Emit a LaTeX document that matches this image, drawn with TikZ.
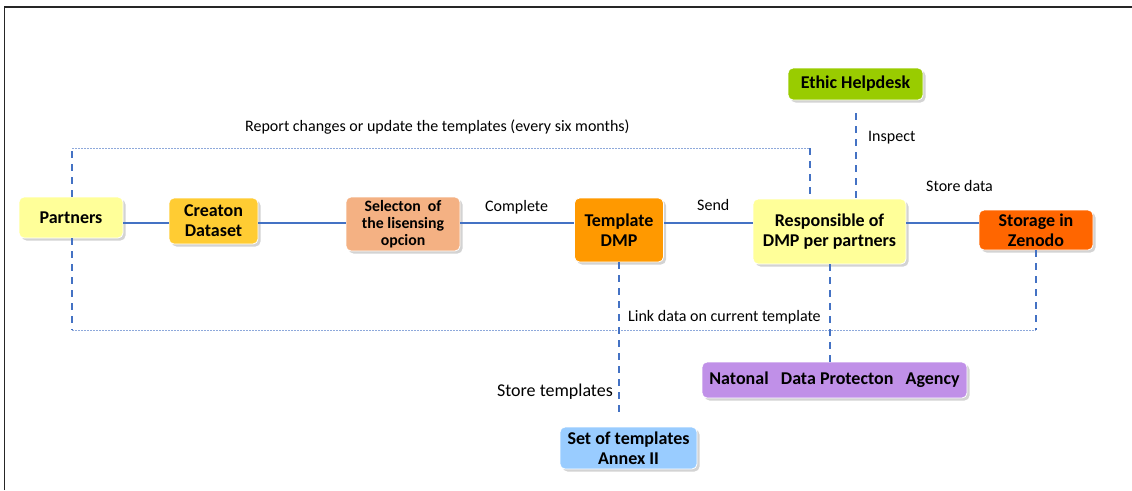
\documentclass[tikz,border=0pt]{standalone}
\usepackage{fontspec}
\setmainfont{Carlito}
\usetikzlibrary{shadows}
\definecolor{lnblue}{HTML}{4472C4}
\definecolor{dotblue}{HTML}{8EA9DB}
\definecolor{cyel}{HTML}{FFFF99}
\definecolor{cgold}{HTML}{FFCC33}
\definecolor{cpeach}{HTML}{F4B183}
\definecolor{corange}{HTML}{FF9900}
\definecolor{cred}{HTML}{FF6600}
\definecolor{cgreen}{HTML}{99CC00}
\definecolor{cpurple}{HTML}{C090E8}
\definecolor{cblue}{HTML}{99CCFF}
\tikzset{
  box/.style={rounded corners=5pt, draw=white, line width=0.8pt, align=center,
    font=\fontsize{18}{20}\selectfont\bfseries, inner sep=1pt,
    drop shadow={shadow xshift=2.5pt, shadow yshift=-2.5pt, opacity=0.35, fill=gray}},
  solidln/.style={draw=lnblue, line width=1.8pt},
  dashln/.style={draw=lnblue, line width=2pt, dash pattern=on 7pt off 6pt},
  dotln/.style={draw=dotblue, line width=0.9pt, dash pattern=on 2pt off 1pt},
  lbl/.style={font=\fontsize{16}{18}\selectfont, inner sep=0pt}
}
\begin{document}
\begin{tikzpicture}[x=1pt,y=-1pt]
\useasboundingbox (0,0) rectangle (1132,490);
\draw[line width=1.6pt, black!85] (4.5,490) -- (4.5,7) -- (1132,7);

% nodes
\node[box, fill=cyel, minimum width=104pt, minimum height=41pt] (partners) at (71,217.5) {Partners};
\node[box, fill=cgold, minimum width=89pt, minimum height=46pt] (creation) at (213.5,221) {Creaton\\Dataset};
\node[box, fill=cpeach, minimum width=114pt, minimum height=54pt, font=\fontsize{15.8}{17}\selectfont\bfseries] (selection) at (403,224) {Selecton\ \ of\\the lisensing\\opcion};
\node[box, fill=corange, minimum width=89pt, minimum height=64pt] (template) at (619,230) {Template\\DMP};
\node[box, fill=cyel, minimum width=153pt, minimum height=65pt] (resp) at (829.5,231.5) {Responsible of\\DMP per partners};
\node[box, fill=cred, minimum width=114pt, minimum height=40pt] (storage) at (1036,230) {Storage in\\Zenodo};
\node[box, fill=cgreen, minimum width=135pt, minimum height=32pt] (ethic) at (855.5,84) {Ethic Helpdesk};
\node[box, fill=cpurple, minimum width=265pt, minimum height=36pt] (ndpa) at (834.5,380) {Natonal\ \ \ Data Protecton\ \ \ Agency};
\node[box, fill=cblue, minimum width=137pt, minimum height=42pt] (set) at (628.5,448) {Set of templates\\Annex II};

% solid row connectors
\coordinate (row) at (0,223);
\draw[solidln] (partners.east |- row) -- (creation.west |- row);
\draw[solidln] (creation.east |- row) -- (selection.west |- row);
\draw[solidln] (selection.east |- row) -- (template.west |- row);
\draw[solidln] (template.east |- row) -- (resp.west |- row);
\draw[solidln] (resp.east |- row) -- (storage.west |- row);

% top feedback loop
\coordinate (tl) at (72,148);
\coordinate (tr) at (810,148);
\draw[dashln] (tl |- partners.north) -- (tl);
\draw[dotln] (tl) -- (tr);
\draw[dashln] (tr) -- (tr |- resp.north);

% bottom link loop
\coordinate (bl) at (72,330);
\coordinate (br) at (1036,330);
\draw[dashln] (bl |- partners.south) -- (bl);
\draw[dotln] (bl) -- (br);
\draw[dashln] (storage.south) -- (br);

% vertical dashed links
\draw[dashln, shorten <=13pt] (ethic.south) -- (ethic.south |- resp.north);
\draw[dashln] (resp.south) -- (resp.south |- ndpa.north);
\draw[dashln, shorten >=14pt] (template.south) -- (template.south |- set.north);

% labels
\node[lbl, anchor=west] (l1) at (245,127) {Report changes or update the templates (every six months)};
\node[lbl, anchor=west] (l2) at (485,207) {Complete};
\node[lbl, anchor=west] (l3) at (697,205) {Send};
\node[lbl, anchor=west] (l4) at (868,138) {Inspect};
\node[lbl, anchor=west] (l5) at (926,186) {Store data};
\node[lbl, anchor=west] (l6) at (628,317) {Link data on current template};
\node[lbl, anchor=east, font=\fontsize{18}{20}\selectfont] (l7) at (613,392) {Store templates};
\end{tikzpicture}
\end{document}
